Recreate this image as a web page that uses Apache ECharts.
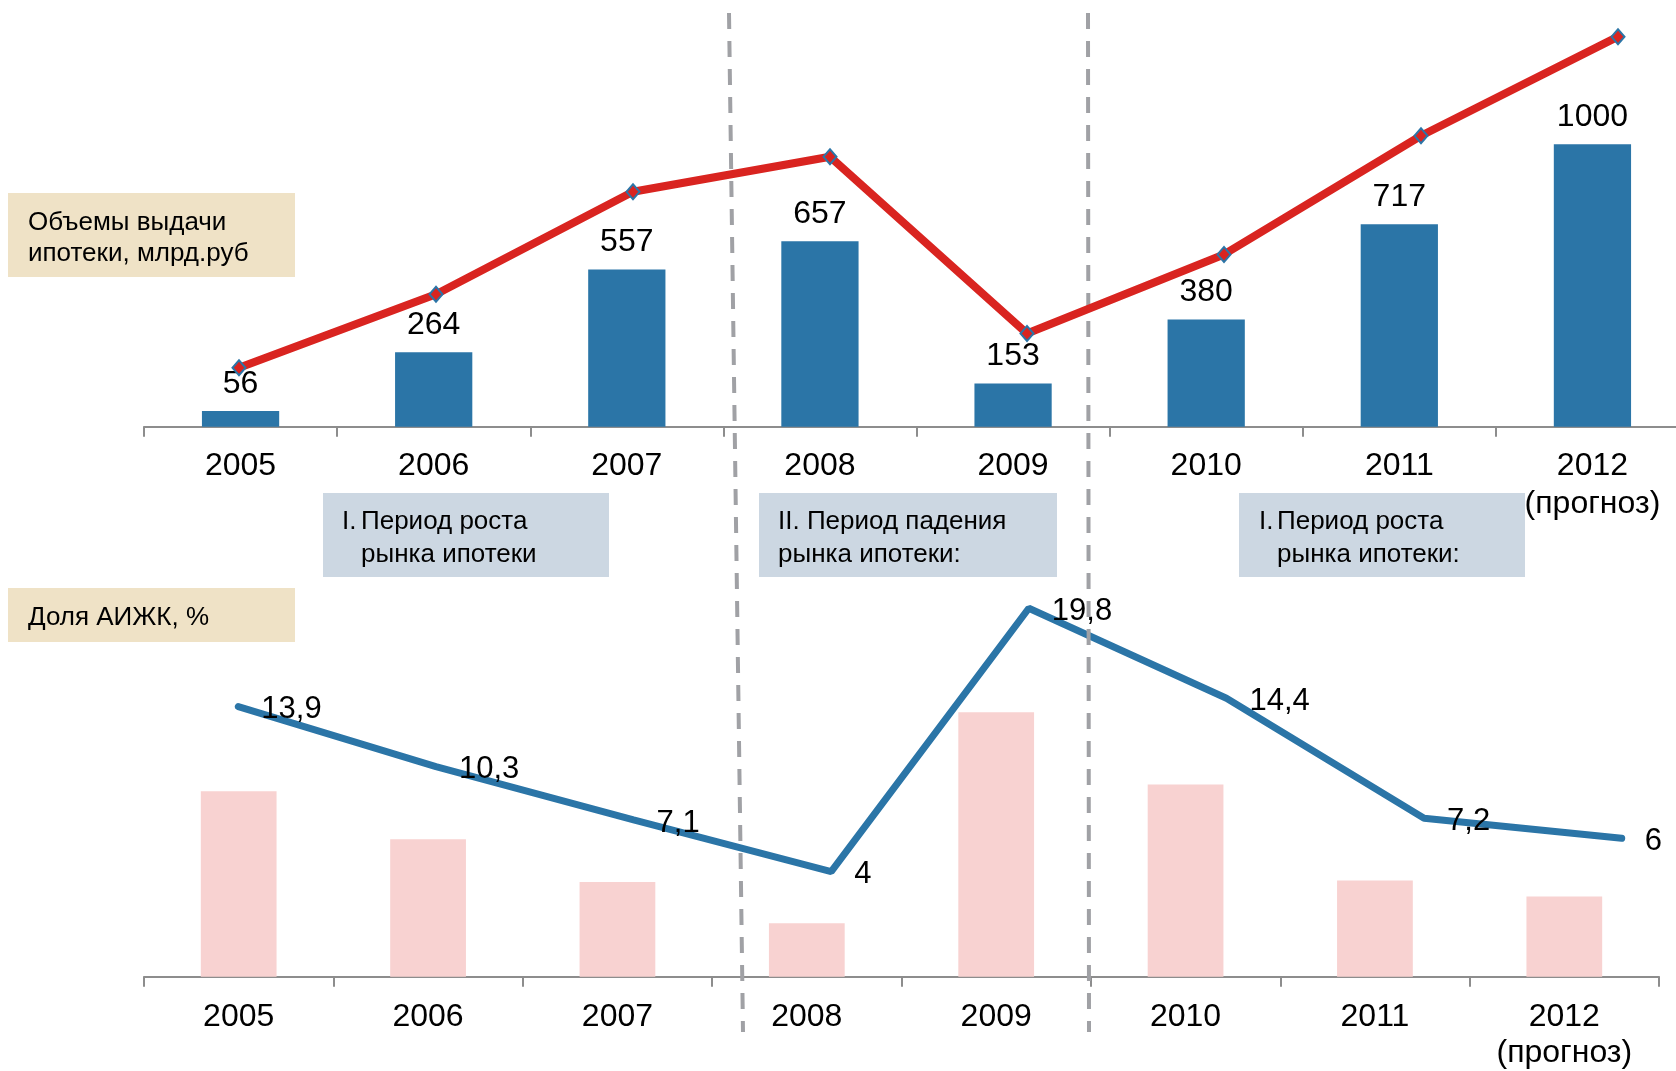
<!DOCTYPE html>
<html>
<head>
<meta charset="utf-8">
<script src="https://cdn.jsdelivr.net/npm/echarts@6/dist/echarts.min.js"></script>
<style>
  html, body { margin: 0; padding: 0; background: #fff; }
  #main { width: 1676px; height: 1071px; }
</style>
</head>
<body>
<div id="main"></div>
<script>
// годы
const years = ['2005', '2006', '2007', '2008', '2009', '2010', '2011', '2012\n(прогноз)'];
// объемы выдачи ипотеки, млрд.руб
const volumes = [56, 264, 557, 657, 153, 380, 717, 1000];
// красная линия тренда над столбцами (в тех же единицах)
const volumeTrend = [209, 469, 832, 956, 330, 610, 1030, 1381];
// доля АИЖК, %
const ahmlShare = [13.9, 10.3, 7.1, 4, 19.8, 14.4, 7.2, 6];

const FONT = '"Liberation Sans", Arial, sans-serif';
const BLUE = '#2b75a7';
const RED = '#d92420';
const PINK = '#f8d2d1';
const AXIS = '#8d8d8d';
const DASH = '#a0a1a5';

let myChart = echarts.init(document.getElementById('main'));

function catAxis(grid, margin, lh) {
    return {
        type: 'category',
        gridIndex: grid,
        data: years,
        axisLine: { lineStyle: { color: AXIS, width: 2 } },
        axisTick: { show: true, length: 10, lineStyle: { color: AXIS, width: 2 } },
        axisLabel: { color: '#000', fontSize: 32, fontFamily: FONT, margin: margin, lineHeight: lh, interval: 0 }
    };
}
function hiddenX(grid) {
    return { type: 'category', gridIndex: grid, data: years, boundaryGap: false, show: false };
}
function valAxis(grid, max) {
    return { type: 'value', gridIndex: grid, min: 0, max: max, show: false, splitLine: { show: false } };
}

function box(x, y, w, h, color) {
    return { type: 'rect', shape: { x: x, y: y, width: w, height: h }, style: { fill: color }, z: 1 };
}
function txt(x, y, s, size) {
    return {
        type: 'text', x: x, y: y, z: 20,
        style: { text: s, fill: '#000', font: size + 'px ' + FONT, textVerticalAlign: 'middle' }
    };
}
function dashLine(x1, y1, x2, y2) {
    return {
        type: 'line', z: 3,
        shape: { x1: x1, y1: y1, x2: x2, y2: y2 },
        style: { stroke: DASH, lineWidth: 4, lineDash: [16, 12] }
    };
}

const comma = function (p) { return String(p.value).replace('.', ','); };

myChart.setOption({
    animation: false,
    grid: [
        { left: 144, top: 31.3, width: 1545, height: 395.4, outerBoundsMode: 'none' },
        { left: 239, top: 31.3, width: 1379, height: 395.4, outerBoundsMode: 'none' },
        { left: 144, top: 576.2, width: 1515, height: 400.5, outerBoundsMode: 'none' },
        { left: 238.3, top: 521.6, width: 1383.4, height: 416.7, outerBoundsMode: 'none' }
    ],
    xAxis: [catAxis(0, 20, 38), hiddenX(1), catAxis(2, 22, 36), hiddenX(3)],
    yAxis: [valAxis(0, 1400), valAxis(1, 1400), valAxis(2, 30), valAxis(3, 25)],
    series: [
        {
            type: 'bar',
            xAxisIndex: 0, yAxisIndex: 0,
            barWidth: '40%',
            itemStyle: { color: BLUE },
            label: { show: true, position: 'top', distance: 11, color: '#000', fontSize: 32, fontFamily: FONT },
            data: volumes
        },
        {
            type: 'line',
            xAxisIndex: 1, yAxisIndex: 1,
            z: 10,
            symbol: 'diamond',
            symbolSize: [13, 15],
            itemStyle: { color: RED, borderColor: BLUE, borderWidth: 2 },
            lineStyle: { color: RED, width: 8 },
            data: volumeTrend
        },
        {
            type: 'bar',
            xAxisIndex: 2, yAxisIndex: 2,
            barWidth: '40%',
            itemStyle: { color: PINK },
            data: ahmlShare
        },
        {
            type: 'line',
            xAxisIndex: 3, yAxisIndex: 3,
            z: 2,
            showSymbol: true,
            symbol: 'circle',
            symbolSize: 2,
            itemStyle: { color: BLUE },
            lineStyle: { color: BLUE, width: 7, cap: 'round' },
            label: {
                show: true, position: 'right', distance: 22, offset: [0, 3],
                color: '#000', fontSize: 31, fontFamily: FONT, formatter: comma
            },
            data: ahmlShare
        }
    ],
    graphic: [
        box(8, 193, 287, 84, '#efe2c6'),
        txt(28, 223, 'Объемы выдачи', 26),
        txt(28, 254, 'ипотеки, млрд.руб', 26),
        box(8, 588, 287, 54, '#efe2c6'),
        txt(28, 618, 'Доля АИЖК, %', 26),

        box(323, 493, 286, 84, '#ccd7e2'),
        txt(342, 522, 'I.', 26),
        txt(361, 522, 'Период роста', 26),
        txt(361, 555, 'рынка ипотеки', 26),

        box(759, 493, 298, 84, '#ccd7e2'),
        txt(778, 522, 'II. Период падения', 26),
        txt(778, 555, 'рынка ипотеки:', 26),

        box(1239, 493, 286, 84, '#ccd7e2'),
        txt(1259, 522, 'I.', 26),
        txt(1277, 522, 'Период роста', 26),
        txt(1277, 555, 'рынка ипотеки:', 26),

        dashLine(729, 13, 743, 1032),
        dashLine(1088, 13, 1089, 1032)
    ]
});
window.addEventListener('resize', function () {
    myChart.resize();
});
</script>
</body>
</html>
